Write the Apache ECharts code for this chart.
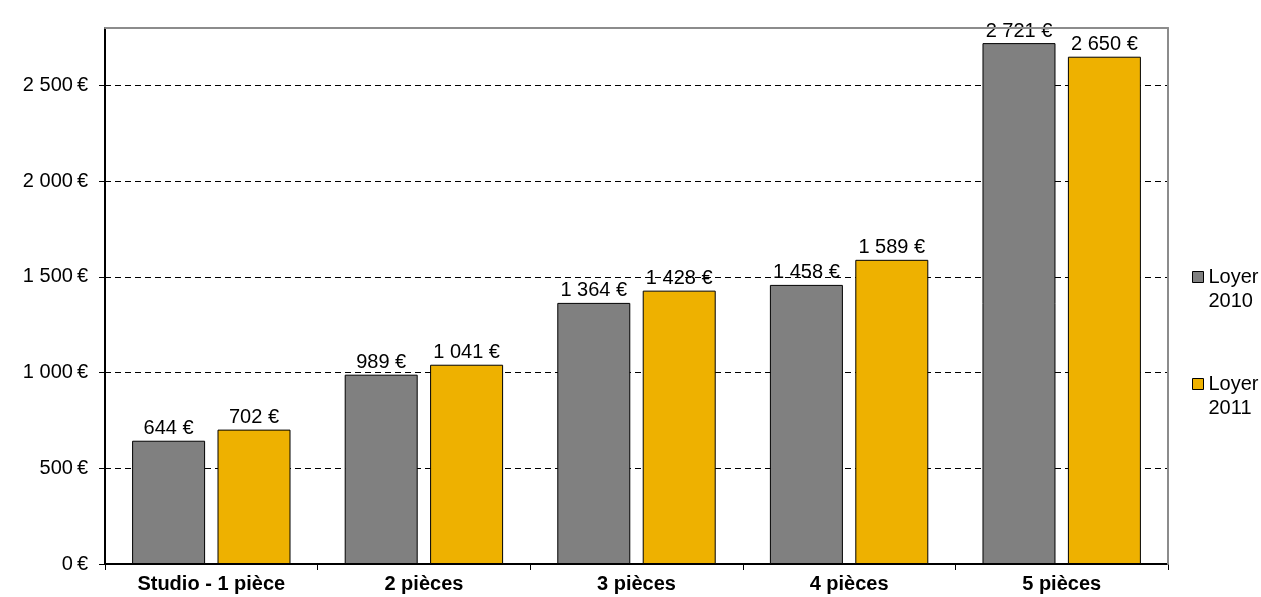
<!DOCTYPE html>
<html>
<head>
<meta charset="utf-8">
<script src="https://cdn.jsdelivr.net/npm/echarts@6/dist/echarts.min.js"></script>
<style>
  html, body { margin: 0; padding: 0; background: #fff; }
  #chart { width: 1261px; height: 597px; }
</style>
</head>
<body>
<div id="chart"></div>
<script>
// Loyers moyens par type de logement
const categories = ['Studio - 1 pièce', '2 pièces', '3 pièces', '4 pièces', '5 pièces'];
const loyer2010 = [644, 989, 1364, 1458, 2721];
const loyer2011 = [702, 1041, 1428, 1589, 2650];
const seriesNames = ['Loyer 2010', 'Loyer 2011'];
const yTicks = [0, 500, 1000, 1500, 2000, 2500];

const FONT = 'Liberation Sans, Arial, sans-serif';
const FS = 20;

// 2721 -> "2 721 €"
function euro(v, sep) {
  return String(Math.round(v)).replace(/\B(?=(\d{3})+(?!\d))/g, ' ') + (sep || ' ') + '€';
}

const chart = echarts.init(document.getElementById('chart'), null, { renderer: 'canvas' });

const barStyle = (color) => ({
  color: color,
  borderColor: '#000',
  borderWidth: 1
});

const barLabel = {
  show: true,
  position: 'top',
  distance: 2,
  color: '#000',
  fontFamily: FONT,
  fontSize: FS,
  formatter: (p) => euro(p.value)
};

chart.setOption({
  animation: false,
  backgroundColor: '#fff',
  textStyle: { fontFamily: FONT },
  grid: { left: 105, right: 93, top: 28, bottom: 33, containLabel: false },
  legend: {
    orient: 'vertical',
    left: 1192,
    top: 267,
    padding: 0,
    itemWidth: 11,
    itemHeight: 11,
    itemGap: 63,
    icon: 'rect',
    itemStyle: { borderColor: '#000', borderWidth: 1 },
    // two-line entries with the swatch level with the first line
    formatter: (name) => {
      const parts = name.split(' ');
      return '{a|' + parts[0] + '}\n{b|' + parts[1] + '}';
    },
    textStyle: {
      fontFamily: FONT,
      fontSize: FS,
      color: '#000',
      rich: {
        a: { fontFamily: FONT, fontSize: FS, color: '#000', lineHeight: 48, verticalAlign: 'bottom' },
        b: { fontFamily: FONT, fontSize: FS, color: '#000', lineHeight: 28 }
      }
    },
    data: seriesNames
  },
  xAxis: [
    {
      type: 'category',
      data: categories,
      axisLine: { lineStyle: { color: '#000', width: 2 } },
      axisTick: { show: true, length: 6, lineStyle: { color: '#000', width: 1 } },
      axisLabel: {
        margin: 10,
        color: '#000',
        fontFamily: FONT,
        fontSize: FS,
        fontWeight: 'bold'
      },
      splitLine: { show: false }
    },
    {
      // frame line along the top of the plot
      type: 'category',
      position: 'top',
      data: categories,
      z: 5,
      axisLine: { onZero: false, lineStyle: { color: '#8c8c8c', width: 2 } },
      axisTick: { show: false },
      axisLabel: { show: false }
    }
  ],
  yAxis: [
    {
      type: 'value',
      min: 0,
      max: 2800,
      interval: 500,
      axisLine: { show: true, lineStyle: { color: '#000', width: 2 } },
      axisTick: { show: true, length: 6, customValues: yTicks, lineStyle: { color: '#000', width: 1 } },
      axisLabel: {
        customValues: yTicks,
        margin: 17,
        color: '#000',
        fontFamily: FONT,
        fontSize: FS,
        formatter: (v) => euro(v, '\u2009')
      },
      splitLine: {
        show: true,
        lineStyle: { color: '#000', type: [6, 4], width: 1 }
      }
    },
    {
      // frame line along the right side of the plot
      type: 'value',
      position: 'right',
      min: 0,
      max: 2800,
      interval: 500,
      z: 5,
      axisLine: { show: true, onZero: false, lineStyle: { color: '#8c8c8c', width: 2 } },
      axisTick: { show: false },
      axisLabel: { show: false },
      splitLine: { show: false }
    }
  ],
  series: [
    {
      name: seriesNames[0],
      type: 'bar',
      data: loyer2010,
      barWidth: 73,
      barGap: '17%',
      itemStyle: barStyle('#808080'),
      label: barLabel
    },
    {
      name: seriesNames[1],
      type: 'bar',
      data: loyer2011,
      barWidth: 73,
      barGap: '17%',
      itemStyle: barStyle('#EEB100'),
      label: barLabel
    }
  ]
});
</script>
</body>
</html>
